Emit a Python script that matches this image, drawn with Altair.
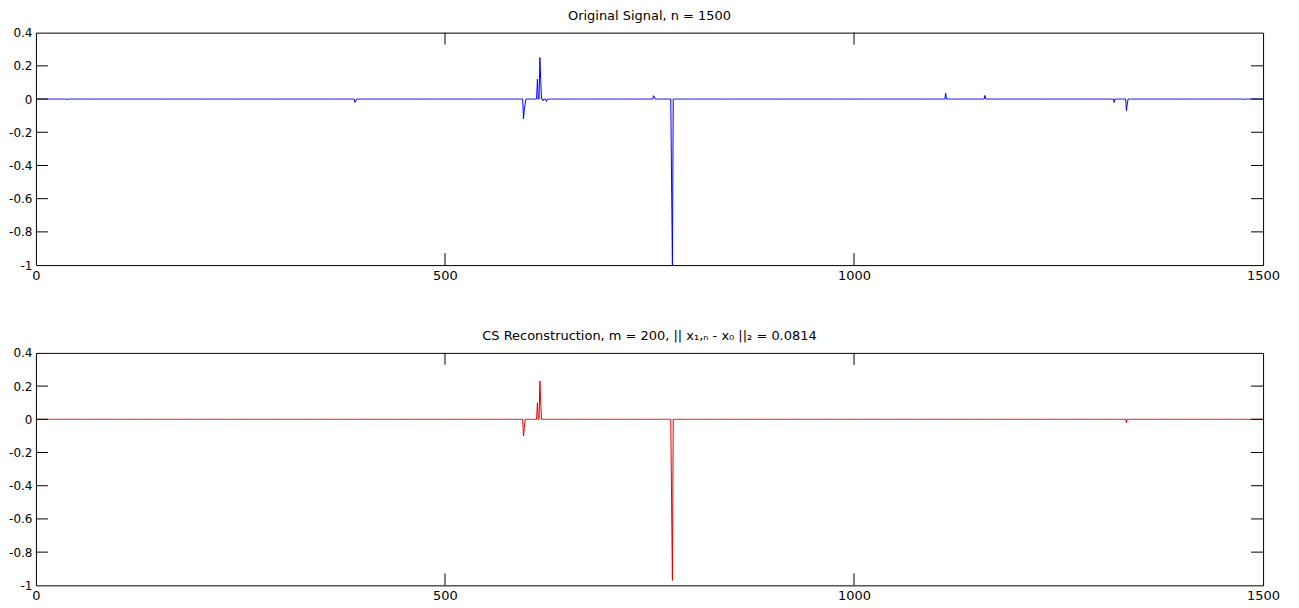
import altair as alt
import pandas as pd

N = 1500
# sparse spikes (all other samples are zero)
orig_idx = [38, 390, 391, 596, 597, 598, 613, 616, 617, 620, 624, 755, 756, 777, 778, 1112, 1160, 1318, 1333, 1334, 1476]
orig_val = [-0.005, -0.02, -0.012, -0.12, -0.06, -0.03, 0.12, 0.25, 0.12, -0.01, -0.015, 0.02, 0.012, -0.5, -1.0, 0.035, 0.022, -0.02, -0.07, -0.03, -0.005]

rec_idx = [596, 597, 613, 616, 617, 777, 778, 1333]
rec_val = [-0.10, -0.05, 0.10, 0.23, 0.10, -0.49, -0.97, -0.02]

y_ticks = [0.4, 0.2, 0, -0.2, -0.4, -0.6, -0.8, -1]
x_ticks = [0, 500, 1000, 1500]
y_inner = [0.2, 0, -0.2, -0.4, -0.6, -0.8]
x_inner = [500, 1000]

title_top = "Original Signal, n = 1500"
title_bot = "CS Reconstruction, m = 200, || x\u2081,\u2099 - x\u2080 ||\u2082 = 0.0814"

W, H = 1230, 233
TICK = 12
FONT = "DejaVu Sans"


def series(idx, val):
    y = [0.0] * N
    for i, v in zip(idx, val):
        y[i - 1] = v
    return pd.DataFrame({"n": list(range(1, N + 1)), "v": y})


xs = alt.Scale(domain=[0, 1500], nice=False, zero=False)
ys = alt.Scale(domain=[-1, 0.4], nice=False, zero=False)

xaxis = alt.Axis(values=x_ticks, ticks=False, domain=False, grid=False, title=None,
                 labelFont=FONT, labelFontSize=13, labelColor="black", labelPadding=4,
                 labelFlush=False, labelOverlap=False, format="d")
yaxis = alt.Axis(values=y_ticks, ticks=False, domain=False, grid=False, title=None,
                 labelFont=FONT, labelFontSize=12, labelColor="black", labelPadding=4,
                 labelFlush=False, labelOverlap=False,
                 labelExpr="replace(format(datum.value, '~g'), '\u2212', '-')")


def panel(df, color, title):
    line = alt.Chart(df).mark_line(color=color, strokeWidth=1, clip=True).encode(
        x=alt.X("n:Q", scale=xs, axis=xaxis),
        y=alt.Y("v:Q", scale=ys, axis=yaxis),
    )
    ydf = pd.DataFrame({"t": y_inner})
    xdf = pd.DataFrame({"t": x_inner})
    yl = alt.Chart(ydf).mark_rule(color="black", strokeWidth=1).encode(
        y=alt.Y("t:Q", scale=ys, axis=yaxis), x=alt.value(0), x2=alt.value(TICK))
    yr = alt.Chart(ydf).mark_rule(color="black", strokeWidth=1).encode(
        y=alt.Y("t:Q", scale=ys, axis=yaxis), x=alt.value(W - TICK), x2=alt.value(W))
    xb = alt.Chart(xdf).mark_rule(color="black", strokeWidth=1).encode(
        x=alt.X("t:Q", scale=xs, axis=xaxis), y=alt.value(H), y2=alt.value(H - TICK))
    xt = alt.Chart(xdf).mark_rule(color="black", strokeWidth=1).encode(
        x=alt.X("t:Q", scale=xs, axis=xaxis), y=alt.value(0), y2=alt.value(TICK))
    return alt.layer(line, yl, yr, xb, xt).properties(
        width=W, height=H,
        title=alt.TitleParams(title, font=FONT, fontSize=13, fontWeight="normal",
                              color="black", anchor="middle", offset=4),
    )


top = panel(series(orig_idx, orig_val), "#0000ff", title_top)
bot = panel(series(rec_idx, rec_val), "#e00000", title_bot)

chart = alt.vconcat(top, bot, spacing=46).properties(
    padding={"left": 0, "top": 0, "right": 10, "bottom": 0},
    background="white",
).configure_view(stroke="black", strokeWidth=1)

chart.save("out.html", embed_options={"renderer": "svg", "actions": False})
